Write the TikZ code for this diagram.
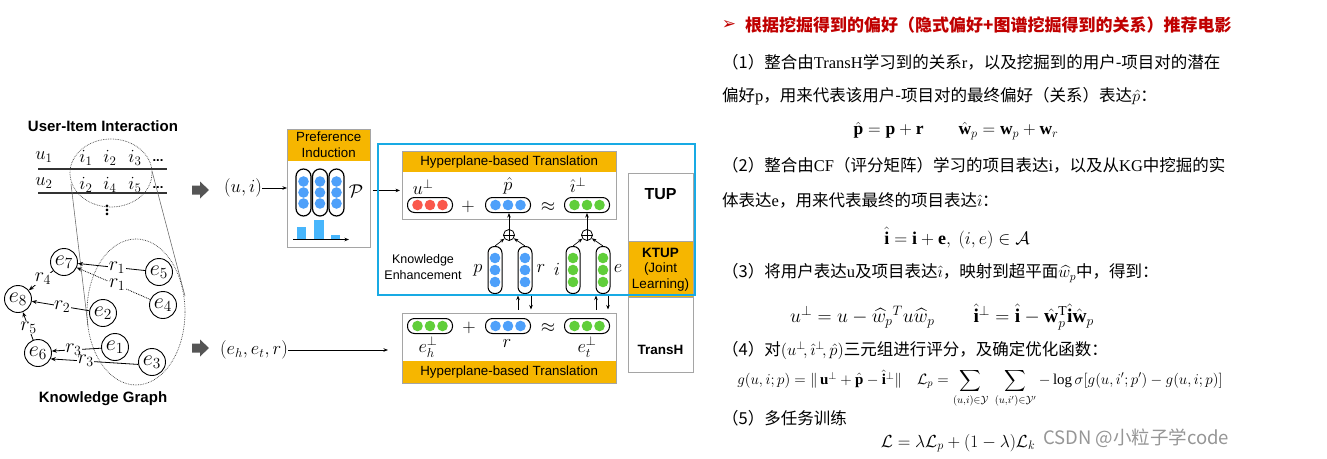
\RequirePackage{fix-cm}
\documentclass[tikz,border=0pt]{standalone}
\usepackage{amsmath,amssymb}
\usepackage{fontspec}
\setmainfont{Liberation Serif}
\setsansfont{Liberation Sans}
\newfontfamily\cjkfont{Noto Sans CJK SC}
\newfontfamily\symfont{DejaVu Sans}
\newcommand\zh[1]{{\cjkfont #1}}
\newcommand\fs[1]{\fontsize{#1}{#1}\selectfont}
\usetikzlibrary{arrows.meta,calc}
\definecolor{hdr}{RGB}{246,182,0}
\definecolor{dblue}{RGB}{78,160,250}
\definecolor{dred}{RGB}{250,88,76}
\definecolor{dgreen}{RGB}{96,206,58}
\definecolor{barblue}{RGB}{72,182,252}
\definecolor{cyanframe}{RGB}{24,170,228}
\definecolor{boxgray}{RGB}{165,165,165}
\definecolor{headred}{RGB}{192,0,0}
\definecolor{blockgray}{RGB}{85,85,85}
\definecolor{wmgray}{RGB}{150,150,150}
\newcommand\pdotsh[2]{\foreach \d in {-12.5,0,12.5}{\fill[#2] ($(#1)+(\d,0)$) circle (5.3pt);}}
\newcommand\pdotsv[3]{\foreach \d in {-#3,0,#3}{\fill[#2] ($(#1)+(0,\d)$) circle (5.3pt);}}
\tikzset{
  kg/.style={circle,draw,line width=0.9pt,minimum size=27pt,inner sep=0pt,font=\fs{22}},
  rl/.style={fill=white,inner sep=0.6pt,font=\fs{20}},
  rel/.style={line width=0.8pt,-{Stealth[length=5pt,width=4pt]}},
  hpill/.style={draw,rounded corners=7pt,line width=1pt,minimum width=45pt,minimum height=15pt,inner sep=0pt},
  vpill/.style={draw,rounded corners=6.5pt,line width=1pt,minimum width=14pt,minimum height=47pt,inner sep=0pt},
  ppill/.style={draw,rounded corners=7.5pt,line width=1.2pt,minimum width=15pt,minimum height=47pt,inner sep=0pt},
  gbox/.style={draw=boxgray,line width=0.9pt,inner sep=0pt},
  hbar/.style={fill=hdr,inner sep=0pt,font=\sffamily\fs{13.3}},
  sm/.style={-{Stealth[length=4.5pt,width=3.5pt]},line width=0.7pt},
  mth/.style={inner sep=0pt,font=\fs{18.5}},
  txt/.style={anchor=west,inner sep=0pt,font=\fs{16.5}},
  fm/.style={inner sep=0pt,font=\fs{17.5}},
  rowline/.style={line width=1.2pt,black!80},
  lens/.style={densely dotted,line width=0.7pt,black!75},
  tang/.style={line width=0.55pt,black!60},
}
\begin{document}
\begin{tikzpicture}[x=1pt,y=-1pt]
\useasboundingbox (0,0) rectangle (1327,458);
\fill[white] (0,0) rectangle (1327,458);

% ---------------- left: user-item interaction ----------------
\node[font=\sffamily\bfseries\fs{15}] (uii) at (103,126) {User-Item Interaction};
\node[mth] (u1) at (44,157) {$u_1$};
\node[mth] (i11) at (86,158) {$i_1$};
\node[mth] (i12) at (110,158) {$i_2$};
\node[mth] (i13) at (135,158) {$i_3$};
\node[inner sep=0pt,font=\sffamily\bfseries\fs{13}] (d1) at (158,161) {...};
\node[mth] (u2) at (44,183) {$u_2$};
\node[mth] (i22) at (86,185) {$i_2$};
\node[mth] (i24) at (110,185) {$i_4$};
\node[mth] (i25) at (135,185) {$i_5$};
\node[inner sep=0pt,font=\sffamily\bfseries\fs{13}] (d2) at (158,188) {...};
\node[inner sep=0pt,font=\bfseries\fs{16}] (vd) at (107,207) {$\boldsymbol{\vdots}$};
\draw[rowline] (38,169) -- (167,169);
\draw[rowline] (38,193) -- (167,193);

\draw[tang] (71,184) -- (88,326);
\draw[tang] (152,171) -- (185,296);
\draw[lens] (111,173) ellipse [x radius=41pt, y radius=34pt];
\draw[lens] (136,312) ellipse [x radius=49pt, y radius=73pt];

% ---------------- knowledge graph ----------------
\node[kg] (e7) at (64,262) {$e_7$};
\node[kg] (e5) at (159,272) {$e_5$};
\node[kg] (e8) at (18,299) {$e_8$};
\node[kg] (e4) at (163,305) {$e_4$};
\node[kg] (e2) at (103,313) {$e_2$};
\node[kg] (e1) at (115,347) {$e_1$};
\node[kg] (e6) at (38,353) {$e_6$};
\node[kg] (e3) at (152,362) {$e_3$};
\draw[rel] (e5) -- node[rl,pos=0.42] {$r_1$} (e7);
\draw[rel,densely dotted] (e4) -- node[rl,pos=0.45] {$r_1$} (e7);
\draw[rel] (e7) -- node[rl,pos=0.42] {$r_4$} (e8);
\draw[rel] (e2) -- node[rl,pos=0.47] {$r_2$} (e8);
\draw[rel] (e6) -- node[rl,pos=0.45] {$r_5$} (e8);
\draw[rel] (e1.185) -- node[rl,pos=0.56] {$r_3$} (e6.8);
\draw[rel] (e3.190) -- node[rl,pos=0.6] {$r_3$} (e6.-25);
\node[font=\sffamily\bfseries\fs{15}] (kgt) at (103,399) {Knowledge Graph};

% ---------------- block arrows ----------------
\fill[blockgray] (192,185.5) -- (200,185.5) -- (200,181.5) -- (209,190) -- (200,198.5) -- (200,194.5) -- (192,194.5) -- cycle;
\fill[blockgray] (192,343.5) -- (200,343.5) -- (200,339.5) -- (209,348) -- (200,356.5) -- (200,352.5) -- (192,352.5) -- cycle;

\node[mth] (ui) at (243,188) {$(u,i)$};
\node[mth] (eht) at (254,350) {$(e_h,e_t,r)$};

% ---------------- preference induction ----------------
\node[hbar,minimum width=83pt,minimum height=32pt,anchor=north west,align=center,font=\sffamily\fontsize{13.3}{16}\selectfont] (prefh) at (287,129) {Preference\\Induction};
\node[gbox,minimum width=83pt,minimum height=118pt,anchor=north west] (pref) at (287,129) {};
\node[ppill] (c1) at (303.5,192.5) {};
\node[ppill] (c2) at (320,192.5) {};
\node[ppill] (c3) at (336.5,192.5) {};
\pdotsv{c1}{dblue}{11}
\pdotsv{c2}{dblue}{11}
\pdotsv{c3}{dblue}{11}
\node[mth] (calP) at (356,191) {$\mathcal{P}$};
\fill[barblue] (297,227) rectangle (306,239);
\fill[barblue] (314,219.5) rectangle (324,239);
\fill[barblue] (331,235) rectangle (340,239);
\coordinate (ax0) at (293,239.5);
\coordinate (ax1) at (349,239.5);
\draw[sm,line width=0.9pt] (ax0) -- (ax1);

% ---------------- upper translation box ----------------
\node[hbar,minimum width=214pt,minimum height=21pt,anchor=north west] (uph) at (402,151) {Hyperplane-based Translation};
\node[gbox,minimum width=214pt,minimum height=68pt,anchor=north west] (up) at (402,151) {};
\node[hpill] (pu) at (430,205) {};
\node[hpill] (pp) at (508,205) {};
\node[hpill] (pi) at (587,205) {};
\pdotsh{pu}{dred}
\pdotsh{pp}{dblue}
\pdotsh{pi}{dgreen}
\node[mth] (lu) at (423,187) {$u^{\perp}$};
\node[mth] (lp) at (508,186) {$\hat{p}$};
\node[mth] (li) at (578,185) {$\hat{\imath}^{\perp}$};
\node[mth] (plus1) at (468,207) {$+$};
\node[mth] (apx1) at (548,207) {$\approx$};

\draw[sm] (ui) -- (ui -| pref.west);
\draw[sm] ($(pref.east)+(2,2)$) -- ($(pref.east -| up.west)+(-2,2)$);

% knowledge enhancement
\node[vpill] (vp) at (495,270) {};
\node[vpill] (vr) at (525,270) {};
\node[vpill] (vi) at (573,270) {};
\node[vpill] (ve) at (603,270) {};
\pdotsv{vp}{dblue}{12}
\pdotsv{vr}{dblue}{12}
\pdotsv{vi}{dgreen}{12}
\pdotsv{ve}{dgreen}{12}
\node[mth] (lvp) at (478,270) {$p$};
\node[mth] (lvr) at (541,269) {$r$};
\node[mth] (lvi) at (557,269) {$i$};
\node[mth] (lve) at (618,269) {$e$};
\node[circle,draw,line width=0.8pt,minimum size=11pt,inner sep=0pt] (op1) at (509,235) {};
\node[circle,draw,line width=0.8pt,minimum size=11pt,inner sep=0pt] (op2) at (587,235) {};
\draw[line width=0.8pt] (op1.north) -- (op1.south) (op1.west) -- (op1.east);
\draw[line width=0.8pt] (op2.north) -- (op2.south) (op2.west) -- (op2.east);
\draw[sm] (vp.north) -- (op1);
\draw[sm] (vr.north) -- (op1);
\draw[sm] (vi.north) -- (op2);
\draw[sm] (ve.north) -- (op2);
\draw[sm] (op1) -- (pp.south -| op1);
\draw[sm] (op2) -- (pi.south -| op2);
\node[inner sep=0pt,align=center,font=\sffamily\fontsize{12.5}{15.5}\selectfont] (ke) at (423,267) {Knowledge\\Enhancement};

% ---------------- lower translation box ----------------
\node[gbox,minimum width=214pt,minimum height=70pt,anchor=north west] (lo) at (402,313) {};
\node[hbar,minimum width=214pt,minimum height=22pt,anchor=south west] (loh) at (402,383) {Hyperplane-based Translation};
\draw[gbox] (lo.north west) rectangle (lo.south east);
\node[hpill] (qh) at (430,326) {};
\node[hpill] (qr) at (508,326) {};
\node[hpill] (qt) at (587,326) {};
\pdotsh{qh}{dgreen}
\pdotsh{qr}{dblue}
\pdotsh{qt}{dgreen}
\node[mth] (plus2) at (469,328) {$+$};
\node[mth] (apx2) at (548,328) {$\approx$};
\node[mth] (leh) at (428,347) {$e_h^{\perp}$};
\node[mth] (lr) at (507,344) {$r$};
\node[mth] (let) at (587,347) {$e_t^{\perp}$};
\coordinate (eha) at (388,350);
\draw[sm] (eht) -- (eha);

% up/down arrows between the two parts
\coordinate (a1) at (518,309.5); \coordinate (a1t) at (518,295.5);
\coordinate (a2) at (531,295.5); \coordinate (a2t) at (531,309.5);
\coordinate (a3) at (596,309.5); \coordinate (a3t) at (596,295.5);
\coordinate (a4) at (608,295.5); \coordinate (a4t) at (608,309.5);
\draw[sm] (a1) -- (a1t);
\draw[sm] (a2) -- (a2t);
\draw[sm] (a3) -- (a3t);
\draw[sm] (a4) -- (a4t);

% ---------------- TUP / KTUP / TransH ----------------
\node[gbox,minimum width=65pt,minimum height=68pt,anchor=north west] (tup) at (628,173) {};
\node[gbox,fill=hdr,minimum width=65pt,minimum height=56pt,anchor=north west] (ktup) at (628,241) {};
\node[gbox,minimum width=65pt,minimum height=75pt,anchor=north west] (transh) at (628,297) {};
\node[inner sep=0pt,font=\sffamily\bfseries\fs{16}] (tupt) at (660.5,194) {TUP};
\node[inner sep=0pt,align=center,font=\sffamily\fontsize{13.5}{15.5}\selectfont] (ktupt) at (660.5,269.5) {\textbf{KTUP}\\(Joint\\Learning)};
\node[inner sep=0pt,font=\sffamily\bfseries\fs{13.5}] (transht) at (660.5,350) {TransH};

\draw[cyanframe,line width=2pt] (378,144) rectangle (695,295);

% ---------------- right text ----------------
\node[inner sep=0pt,text=headred,font=\symfont\fs{17}] (harrow) at (729,25) {➢};
\node[anchor=west,inner sep=0pt,text=headred,font=\cjkfont\bfseries\fs{17}] (head) at (745,25) {根据挖掘得到的偏好（隐式偏好+图谱挖掘得到的关系）推荐电影};
\node[txt] (t1) at (722,62) {\zh{（1）整合由}TransH\zh{学习到的关系}r\zh{，以及挖掘到的用户-项目对的潜在}};
\node[txt] (t2) at (722,96) {\zh{偏好}p\zh{，用来代表该用户-项目对的最终偏好（关系）表达}$\hat{p}$\zh{：}};
\node[fm] (f1) at (956,131) {$\hat{\mathbf{p}} = \mathbf{p} + \mathbf{r} \qquad \hat{\mathbf{w}}_p = \mathbf{w}_p + \mathbf{w}_r$};
\node[txt] (t3) at (722,165) {\zh{（2）整合由}CF\zh{（评分矩阵）学习的项目表达}i\zh{，以及从}KG\zh{中挖掘的实}};
\node[txt] (t4) at (722,200) {\zh{体表达}e\zh{，用来代表最终的项目表达}$\hat{\imath}$\zh{：}};
\node[fm,font=\fs{18}] (f2) at (957,238) {$\hat{\mathbf{i}} = \mathbf{i} + \mathbf{e},\ (i,e) \in \mathcal{A}$};
\node[txt] (t5) at (722,273) {\zh{（3）将用户表达}u\zh{及项目表达}$\hat{\imath}$\zh{，映射到超平面}$\widehat{w}_p$\zh{中，得到：}};
\node[fm,font=\fs{19.5}] (f3) at (942,317) {$u^{\perp} = u - \widehat{w}_p{}^{T} u \widehat{w}_p \qquad \hat{\mathbf{i}}^{\perp} = \hat{\mathbf{i}} - \hat{\mathbf{w}}_p^{\mathrm{T}} \hat{\mathbf{i}} \hat{\mathbf{w}}_p$};
\node[txt] (t6) at (722,350) {\zh{（4）对}$(u^{\perp}\!,\hat{\imath}^{\perp}\!,\hat{p})$\zh{三元组进行评分，及确定优化函数：}};
\node[fm,font=\fs{15}] (f4) at (980,388) {$g(u,i;p) = \lVert\, \mathbf{u}^{\perp} + \hat{\mathbf{p}} - \hat{\mathbf{i}}^{\perp} \rVert \quad \mathcal{L}_p = \displaystyle\sum_{(u,i)\in\mathcal{Y}}\ \sum_{(u,i')\in\mathcal{Y}'} -\log\sigma[g(u,i';p') - g(u,i;p)]$};
\node[txt] (t7) at (722,418) {\zh{（5）多任务训练}};
\node[fm] (f5) at (958,443) {$\mathcal{L} = \lambda\mathcal{L}_p + (1-\lambda)\mathcal{L}_k$};
\node[inner sep=0pt,text=wmgray,font=\cjkfont\fs{18.5}] (wm) at (1136,438) {CSDN @小粒子学code};
\end{tikzpicture}
\end{document}
